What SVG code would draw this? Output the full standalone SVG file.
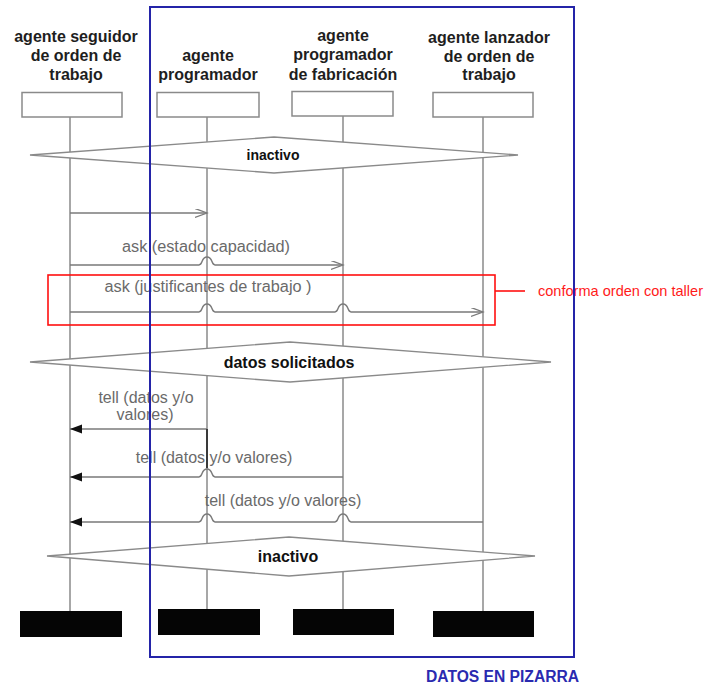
<svg xmlns="http://www.w3.org/2000/svg" width="708" height="686" viewBox="0 0 708 686">
  <style>
    .hdr { font-family: "Liberation Sans", Arial, sans-serif; font-size: 16px; font-weight: bold; fill: #1e1e1e; text-anchor: middle; }
    .box { fill: #ffffff; stroke: #8a8a8a; stroke-width: 1.5; }
    .end { fill: #050505; }
    .life { stroke: #8a8a8a; stroke-width: 1.5; fill: none; }
    .state { fill: #ffffff; stroke: #8a8a8a; stroke-width: 1.3; }
    .stxt { font-family: "Liberation Sans", Arial, sans-serif; font-weight: bold; fill: #111111; text-anchor: middle; }
    .msg { stroke: #7a7a7a; stroke-width: 1.4; fill: none; }
    .ask { marker-end: url(#open); }
    .tell { marker-end: url(#solid); }
    .mtxt { font-family: "Liberation Sans", Arial, sans-serif; font-size: 16px; fill: #6a6a6a; text-anchor: middle; }
    .note { fill: none; stroke: #ff1010; stroke-width: 1.6; }
    .ntxt { font-family: "Liberation Sans", Arial, sans-serif; font-size: 15px; fill: #ff1a1a; }
    .frame { fill: none; stroke: #2424a8; stroke-width: 2; }
    .ftxt { font-family: "Liberation Sans", Arial, sans-serif; font-size: 16px; font-weight: bold; fill: #2a2ab0; }
  </style>
  <defs>
    <marker id="open" markerUnits="userSpaceOnUse" markerWidth="14" markerHeight="11" refX="12" refY="4.5" orient="auto">
      <path d="M0,0 L12,4.5 L0,9" fill="none" stroke="#7a7a7a" stroke-width="1.3"/>
    </marker>
    <marker id="solid" markerUnits="userSpaceOnUse" markerWidth="13" markerHeight="10" refX="12" refY="4.5" orient="auto">
      <path d="M0,0 L12,4.5 L0,9 Z" fill="#111111"/>
    </marker>
  </defs>
  <rect width="708" height="686" fill="#ffffff"/>

  <!-- agents: heading, head box, lifeline, end box -->
  <g id="agente-seguidor">
    <text class="hdr" x="76" y="42">agente seguidor</text>
    <text class="hdr" x="76" y="61">de orden de</text>
    <text class="hdr" x="76" y="80">trabajo</text>
    <line class="life" x1="70" y1="117" x2="70" y2="611"/>
    <rect class="box" x="22" y="92.5" width="100" height="24.5"/>
    <rect class="end" x="20" y="611" width="102" height="26"/>
  </g>
  <g id="agente-programador">
    <text class="hdr" x="208" y="61">agente</text>
    <text class="hdr" x="208" y="80">programador</text>
    <line class="life" x1="207" y1="117" x2="207" y2="609"/>
    <rect class="box" x="157" y="92.5" width="102" height="24.5"/>
    <rect class="end" x="158" y="609" width="102" height="26"/>
  </g>
  <g id="agente-programador-fabricacion">
    <text class="hdr" x="343" y="41">agente</text>
    <text class="hdr" x="343" y="60">programador</text>
    <text class="hdr" x="343" y="80">de fabricación</text>
    <line class="life" x1="343" y1="116" x2="343" y2="609"/>
    <rect class="box" x="292" y="91.5" width="101" height="24.5"/>
    <rect class="end" x="293" y="609" width="101" height="26"/>
  </g>
  <g id="agente-lanzador">
    <text class="hdr" x="489" y="43">agente lanzador</text>
    <text class="hdr" x="489" y="62">de orden de</text>
    <text class="hdr" x="489" y="80">trabajo</text>
    <line class="life" x1="483" y1="117" x2="483" y2="611"/>
    <rect class="box" x="433" y="92.5" width="100" height="24.5"/>
    <rect class="end" x="433" y="611" width="101" height="26"/>
  </g>

  <!-- shared states across all lifelines -->
  <g id="estado-inactivo-1">
    <polygon class="state" points="30,155 274,137 518,155 274,173"/>
    <text class="stxt" x="273" y="160" font-size="14">inactivo</text>
  </g>
  <g id="estado-datos-solicitados">
    <polygon class="state" points="30,362 290,342 551,362 290,382"/>
    <text class="stxt" x="289" y="368" font-size="16">datos solicitados</text>
  </g>
  <g id="estado-inactivo-2">
    <polygon class="state" points="47,556 289,537 535,556 289,576"/>
    <text class="stxt" x="288" y="562" font-size="16">inactivo</text>
  </g>

  <!-- messages; humps where a message jumps over a lifeline -->
  <g id="connectors">
    <path class="msg ask" d="M70,213 H207"/>

    <text class="mtxt" x="206" y="252" textLength="168" lengthAdjust="spacingAndGlyphs">ask (estado capacidad)</text>
    <path class="msg ask" d="M70,265 H199 C203,265 201,257 207,257 C213,257 211,265 215,265 H343"/>

    <text class="mtxt" x="208" y="292" textLength="207" lengthAdjust="spacingAndGlyphs">ask (justificantes de trabajo )</text>
    <path class="msg ask" d="M70,312 H199 C203,312 201,304 207,304 C213,304 211,312 215,312 H335 C339,312 337,304 343,304 C349,304 347,312 351,312 H483"/>

    <text class="mtxt" x="146" y="403">tell (datos y/o</text>
    <text class="mtxt" x="145" y="420">valores)</text>
    <path class="msg tell" d="M207,429 H70"/>
    <line x1="207" y1="429" x2="207" y2="468" stroke="#3a3a3a" stroke-width="2"/>

    <text class="mtxt" x="214" y="463">tell (datos y/o valores)</text>
    <path class="msg tell" d="M343,477 H215 C211,477 213,469 207,469 C201,469 203,477 199,477 H70"/>

    <text class="mtxt" x="283" y="506">tell (datos y/o valores)</text>
    <path class="msg tell" d="M483,522 H351 C347,522 349,514 343,514 C337,514 339,522 335,522 H215 C211,522 213,514 207,514 C201,514 203,522 199,522 H70"/>
  </g>

  <!-- annotation for the checking step -->
  <g id="nota-conforma">
    <rect class="note" x="48" y="275" width="447" height="50"/>
    <line class="note" x1="495" y1="291" x2="525" y2="291"/>
    <text class="ntxt" x="538" y="296" textLength="165" lengthAdjust="spacingAndGlyphs">conforma orden con taller</text>
  </g>

  <!-- blackboard boundary -->
  <g id="pizarra">
    <rect class="frame" x="150" y="7" width="424" height="650"/>
    <text class="ftxt" x="426" y="682" textLength="153" lengthAdjust="spacingAndGlyphs">DATOS EN PIZARRA</text>
  </g>
</svg>
